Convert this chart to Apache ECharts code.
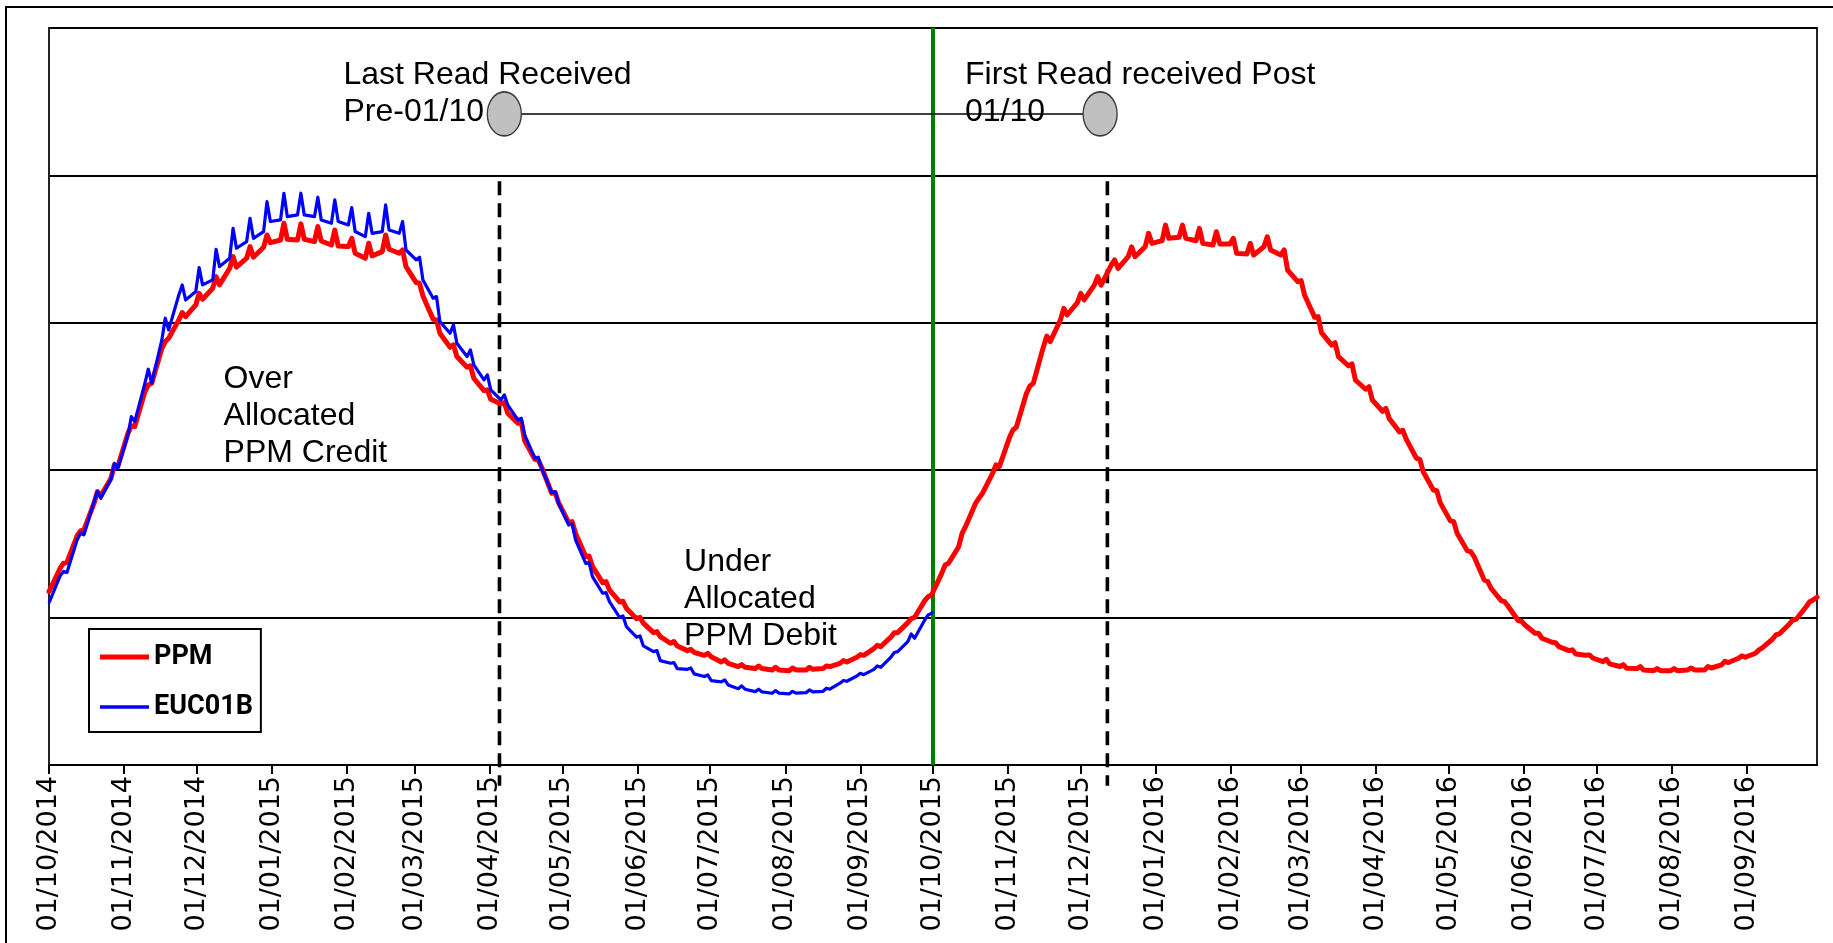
<!DOCTYPE html>
<html>
<head>
<meta charset="utf-8">
<script src="https://cdn.jsdelivr.net/npm/echarts@6/dist/echarts.min.js"></script>
<style>
  html, body { margin: 0; padding: 0; background: #fff; overflow: hidden; }
  #frame { position: absolute; left: 5px; top: 6px; width: 1900px; height: 1000px; border: 2px solid #000; box-sizing: border-box; }
  #chart { position: absolute; left: 0; top: 0; width: 1833px; height: 943px; }
</style>
</head>
<body>
<div id="frame"></div>
<div id="chart"></div>
<script>
// ---------- DATA ----------
// Series are sampled weekly: for week k, trough just before day 7k+6, spike on day 7k+6, after-spike just after
// (days counted from 01/10/2014). Values in chart units (gridlines at 0..5, no axis labels in source).
const xStart = '2014-10-01';
const xEnd = '2016-09-30';

const ppmStart = 1.177;
const ppmEnd = 1.138;
const ppmEndDay = 730;
const ppmTrough = [
  1.335, 1.555, 1.776, 1.946, 2.251, 2.533, 2.827, 3.020, 3.121, 3.234, 3.370, 3.438, 3.512, 3.562, 3.562, 3.551, 3.528, 3.517, 3.438, 3.483, 3.472, 3.273, 3.024, 2.834, 2.699, 2.540, 2.450,
  2.318, 2.074, 1.843, 1.644, 1.414, 1.237, 1.106, 0.993, 0.898, 0.826, 0.776, 0.744, 0.699, 0.668, 0.654, 0.645, 0.640, 0.645, 0.654, 0.690, 0.731, 0.790, 0.867, 0.966, 1.115,
  1.300, 1.481, 1.776, 1.979, 2.223, 2.522, 2.838, 3.019, 3.137, 3.256, 3.392, 3.449, 3.516, 3.557, 3.580, 3.557, 3.528, 3.535, 3.467, 3.516, 3.460, 3.279, 3.037, 2.849, 2.707, 2.549,
  2.400, 2.260, 2.081, 1.866, 1.656, 1.454, 1.255, 1.115, 0.980, 0.894, 0.833, 0.776, 0.744, 0.701, 0.668, 0.654, 0.640, 0.640, 0.645, 0.645, 0.679, 0.724, 0.758, 0.853, 0.957, 1.075
];
const ppmPeak = [
  1.369, 1.588, 1.855, 2.036, 2.301, 2.578, 2.873, 3.069, 3.200, 3.313, 3.449, 3.517, 3.596, 3.675, 3.671, 3.653, 3.630, 3.573, 3.540, 3.596, 3.494, 3.268, 3.020, 2.850, 2.708, 2.545, 2.459,
  2.330, 2.069, 1.848, 1.651, 1.418, 1.244, 1.111, 1.002, 0.905, 0.837, 0.785, 0.758, 0.713, 0.681, 0.672, 0.663, 0.658, 0.663, 0.672, 0.708, 0.749, 0.812, 0.898, 0.993, 1.142,
  1.357, 1.572, 1.810, 2.036, 2.273, 2.571, 2.910, 3.098, 3.200, 3.313, 3.426, 3.516, 3.607, 3.663, 3.663, 3.641, 3.618, 3.573, 3.539, 3.584, 3.494, 3.286, 3.042, 2.865, 2.721, 2.567,
  2.420, 2.270, 2.074, 1.861, 1.651, 1.448, 1.246, 1.108, 0.975, 0.894, 0.830, 0.781, 0.747, 0.717, 0.681, 0.668, 0.654, 0.654, 0.658, 0.668, 0.704, 0.740, 0.781, 0.882, 0.984, 1.108
];
const ppmAfter = [
  1.374, 1.595, 1.826, 2.025, 2.296, 2.590, 2.895, 3.042, 3.160, 3.257, 3.377, 3.445, 3.544, 3.567, 3.567, 3.555, 3.521, 3.472, 3.454, 3.499, 3.381, 3.182, 2.929, 2.771, 2.624, 2.481, 2.387,
  2.200, 2.020, 1.780, 1.572, 1.346, 1.188, 1.063, 0.962, 0.871, 0.808, 0.763, 0.735, 0.690, 0.663, 0.654, 0.645, 0.645, 0.649, 0.668, 0.699, 0.744, 0.803, 0.898, 1.002, 1.154,
  1.369, 1.617, 1.843, 2.024, 2.291, 2.589, 2.872, 3.053, 3.155, 3.256, 3.369, 3.449, 3.539, 3.573, 3.573, 3.539, 3.535, 3.471, 3.460, 3.494, 3.358, 3.189, 2.933, 2.770, 2.612, 2.476,
  2.350, 2.210, 1.990, 1.780, 1.572, 1.414, 1.199, 1.079, 0.950, 0.860, 0.803, 0.753, 0.726, 0.686, 0.656, 0.645, 0.640, 0.640, 0.645, 0.658, 0.695, 0.731, 0.794, 0.889, 0.989, 1.120
];

const eucStart = 1.100;
const eucEnd = 1.041;
const eucEndDay = 365;
const eucTrough = [
  1.283, 1.527, 1.787, 1.939, 2.239, 2.590, 2.884, 3.189, 3.212, 3.291, 3.438, 3.551, 3.619, 3.698, 3.732, 3.720, 3.675, 3.664, 3.585, 3.619, 3.607, 3.427, 3.167, 2.929, 2.771, 2.613, 2.477,
  2.341, 2.081, 1.848, 1.628, 1.368, 1.165, 1.002, 0.867, 0.769, 0.690, 0.649, 0.600, 0.564, 0.518, 0.498, 0.487, 0.482, 0.491, 0.500, 0.555, 0.604, 0.649, 0.731, 0.837, 0.984
];
const eucPeak = [
  1.313, 1.572, 1.855, 2.047, 2.364, 2.685, 3.031, 3.257, 3.375, 3.499, 3.641, 3.709, 3.822, 3.879, 3.879, 3.852, 3.834, 3.782, 3.743, 3.800, 3.687, 3.445, 3.178, 2.986, 2.816, 2.647, 2.511,
  2.352, 2.088, 1.855, 1.635, 1.373, 1.169, 1.011, 0.876, 0.776, 0.695, 0.658, 0.611, 0.577, 0.537, 0.514, 0.505, 0.500, 0.509, 0.521, 0.573, 0.622, 0.672, 0.763, 0.889, 1.018
];
const eucAfter = [
  1.306, 1.561, 1.810, 2.013, 2.330, 2.590, 2.952, 3.155, 3.257, 3.381, 3.506, 3.573, 3.687, 3.720, 3.732, 3.698, 3.687, 3.619, 3.607, 3.630, 3.494, 3.291, 3.008, 2.861, 2.714, 2.545, 2.443,
  2.239, 2.013, 1.775, 1.527, 1.278, 1.108, 0.939, 0.808, 0.708, 0.654, 0.618, 0.573, 0.543, 0.514, 0.496, 0.487, 0.487, 0.496, 0.514, 0.568, 0.613, 0.663, 0.769, 0.860, 1.029
];

// reference lines
const cutoverDate = '2015-10-01';
const readDates = ['2015-04-05', '2015-12-12'];
const readLineTop = 3.96;
const readLineBottom = -0.14;
const readMarkerDates = ['2015-04-07', '2015-12-09'];
const readMarkerLevel = 4.417;

// text notes
const noteTexts = ['Last Read Received\nPre-01/10', 'First Read received Post\n01/10', 'Over\nAllocated\nPPM Credit', 'Under\nAllocated\nPPM Debit'];
const noteDates = ['2015-01-30T19:00', '2015-10-14T10:00', '2014-12-12T07:00', '2015-06-20T10:00'];
const noteLevels = [4.80, 4.80, 2.74, 1.495];

// ---------- BUILD ----------
const DAY_MS = 86400000;
const T0 = new Date(2014, 9, 1).getTime();
function dayDate(d) { return T0 + d * DAY_MS; }
function buildLine(startVal, trough, peak, after, endDay, endVal) {
  const pts = [[dayDate(0), startVal]];
  for (let k = 0; k < trough.length; k++) {
    pts.push([dayDate(7 * k + 4.6), trough[k]]);
    pts.push([dayDate(7 * k + 6), peak[k]]);
    pts.push([dayDate(7 * k + 7.4), after[k]]);
  }
  pts.push([dayDate(endDay), endVal]);
  return pts;
}

const chart = echarts.init(document.getElementById('chart'), null, { renderer: 'canvas' });
const option = {
  animation: false,
  backgroundColor: 'transparent',
  grid: { left: 49, right: 16, top: 28, bottom: 178, show: true, borderColor: '#222', borderWidth: 2, outerBoundsMode: 'none', containLabel: false },
  legend: {
    left: 89, top: 629, orient: 'vertical',
    padding: [13, 8, 10, 11], itemGap: 20, itemWidth: 49, itemHeight: 14,
    borderColor: '#000', borderWidth: 2, backgroundColor: '#fff',
    symbolKeepAspect: true,
    textStyle: { fontFamily: 'Roboto', fontWeight: 'bold', fontSize: 27, lineHeight: 30, color: '#000' },
    data: [
      { name: 'PPM', icon: 'path://M0,0H49V5H0Z' },
      { name: 'EUC01B', icon: 'path://M0,0H49V3.4H0Z' }
    ]
  },
  xAxis: {
    type: 'time',
    min: xStart, max: xEnd,
    splitNumber: 24,
    minInterval: 28 * DAY_MS,
    maxInterval: 31 * DAY_MS,
    axisLine: { show: true, lineStyle: { color: '#000', width: 2 } },
    axisTick: { show: true, length: 9, lineStyle: { color: '#000', width: 2 } },
    splitLine: { show: false },
    axisLabel: {
      rotate: 90, margin: 11, color: '#000', fontSize: 27,
      fontFamily: 'DejaVu Sans',
      formatter: '{dd}/{MM}/{yyyy}',
      hideOverlap: false
    }
  },
  yAxis: {
    type: 'value', min: 0, max: 5, interval: 1,
    axisLabel: { show: false }, axisTick: { show: false },
    axisLine: { show: true, lineStyle: { color: '#222', width: 2 } },
    splitLine: { show: true, lineStyle: { color: '#000', width: 2 } }
  },
  series: [
    {
      name: 'cutover', type: 'line', data: [[cutoverDate, 0], [cutoverDate, 5]],
      symbol: 'none', lineStyle: { color: '#008000', width: 4 }, silent: true, z: 2
    },
    {
      name: 'readLine1', type: 'line', data: [[readDates[0], readLineTop], [readDates[0], readLineBottom]],
      symbol: 'none', clip: false, lineStyle: { color: '#000', width: 3.6, type: [14, 8] }, silent: true, z: 2
    },
    {
      name: 'readLine2', type: 'line', data: [[readDates[1], readLineTop], [readDates[1], readLineBottom]],
      symbol: 'none', clip: false, lineStyle: { color: '#000', width: 3.6, type: [14, 8] }, silent: true, z: 2
    },
    {
      name: 'PPM', type: 'line', data: buildLine(ppmStart, ppmTrough, ppmPeak, ppmAfter, ppmEndDay, ppmEnd),
      symbol: 'none', color: '#ff0000', itemStyle: { color: '#ff0000' },
      lineStyle: { color: '#ff0000', width: 5, join: 'round', cap: 'round' }, z: 3
    },
    {
      name: 'EUC01B', type: 'line', data: buildLine(eucStart, eucTrough, eucPeak, eucAfter, eucEndDay, eucEnd),
      symbol: 'none', color: '#0000ff', itemStyle: { color: '#0000ff' },
      lineStyle: { color: '#0000ff', width: 3.2, join: 'round' }, z: 4
    },
    {
      name: 'reads', type: 'line', data: [[readMarkerDates[0], readMarkerLevel], [readMarkerDates[1], readMarkerLevel]],
      symbol: 'circle', symbolSize: [34, 44], showSymbol: true,
      itemStyle: { color: '#c0c0c0', borderColor: '#3a3a3a', borderWidth: 1.5 },
      lineStyle: { color: '#000', width: 1.5 }, silent: true, z: 5
    },
    {
      name: 'notes', type: 'scatter',
      data: noteTexts.map((t, i) => ({ value: [noteDates[i], noteLevels[i]], label: { formatter: t } })),
      symbolSize: 1, itemStyle: { color: 'rgba(0,0,0,0)' },
      label: { show: true, position: [0, 0], align: 'left', verticalAlign: 'top', fontSize: 32, lineHeight: 37, fontFamily: 'Liberation Sans', color: '#000', opacity: 1 },
      silent: true, z: 6
    }
  ]
};
chart.setOption(option);
</script>
</body>
</html>
